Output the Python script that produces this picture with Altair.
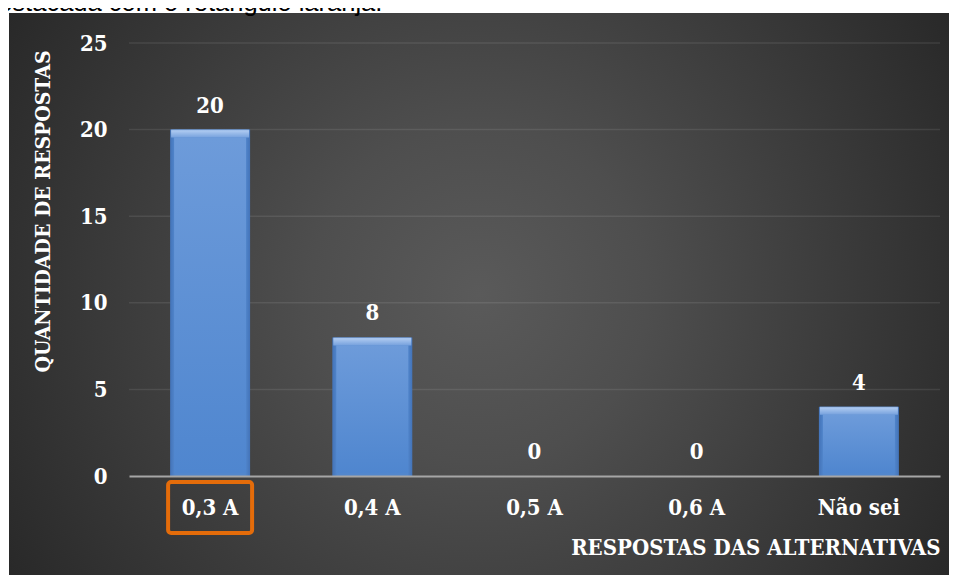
import altair as alt
import pandas as pd

categories = ["0,3 A", "0,4 A", "0,5 A", "0,6 A", "Não sei"]
counts = [20, 8, 0, 0, 4]
y_ticks = [0, 5, 10, 15, 20, 25]
highlight = "0,3 A"
caption = "destacada com o retângulo laranja."
x_title = "RESPOSTAS DAS ALTERNATIVAS"
y_title = "QUANTIDADE DE RESPOSTAS"

FONT = "DejaVu Serif Condensed"
W, H = 811, 433

df = pd.DataFrame({"cat": categories, "n": counts})
grid_df = pd.DataFrame({"n": y_ticks[1:]})
cap_df = pd.DataFrame({"t": [caption]})
bg_df = pd.DataFrame({"a": [0]})

x_scale = alt.Scale(domain=categories, paddingInner=0, paddingOuter=0)
y_scale = alt.Scale(domain=[0, 25], nice=False)

x_axis = alt.Axis(
    title=x_title, titleFont=FONT, titleFontSize=22, titleFontWeight="bold",
    titleColor="white", titleAnchor="end", titleAlign="right", titleX=W,
    titleY=71, titleBaseline="middle",
    labelAngle=0, labelFont=FONT, labelFontSize=22, labelFontWeight="bold",
    labelColor="white", labelPadding=21, labelBaseline="top",
    ticks=False, tickSize=0, domainColor="#a6a6a6", domainWidth=2, zindex=1,
    grid=False,
)
y_axis = alt.Axis(
    values=y_ticks, title=y_title, titleFont=FONT, titleFontSize=21,
    titleFontWeight="bold", titleColor="white", titleX=-86, titleY=168,
    titleBaseline="middle", titleAngle=270, titleAlign="center",
    labelFont=FONT, labelFontSize=22, labelFontWeight="bold", labelColor="white",
    labelPadding=22, grid=False, domain=False, ticks=False, tickSize=0, zindex=1,
)

X = alt.X("cat:N", sort=categories, scale=x_scale, axis=x_axis)
Y = alt.Y("n:Q", scale=y_scale, axis=y_axis)

bg_grad = {
    "gradient": "radial", "x1": 0.5, "y1": 0.5, "r1": 0, "x2": 0.5, "y2": 0.5, "r2": 0.6,
    "stops": [{"offset": 0, "color": "#5a5a5a"}, {"offset": 0.3, "color": "#4e4e4e"},
              {"offset": 1, "color": "#272727"}],
}
background = alt.Chart(bg_df).mark_rect(fill=bg_grad).encode(
    x=alt.value(-120), x2=alt.value(820), y=alt.value(-30), y2=alt.value(532)
)

gridlines = alt.Chart(grid_df).mark_rule(color="white", opacity=0.09, strokeWidth=1.5).encode(
    y=Y, x=alt.value(0), x2=alt.value(W)
)

side_grad = {
    "gradient": "linear", "x1": 0, "y1": 0, "x2": 1, "y2": 0,
    "stops": [{"offset": 0, "color": "#4373b8"}, {"offset": 0.06, "color": "#5287cd"},
              {"offset": 0.94, "color": "#5287cd"}, {"offset": 1, "color": "#4373b8"}],
}
face_grad = {
    "gradient": "linear", "x1": 0, "y1": 0, "x2": 0, "y2": 1,
    "stops": [{"offset": 0, "color": "#6d9bda"}, {"offset": 1, "color": "#4f86cf"}],
}
top_grad = {
    "gradient": "linear", "x1": 0, "y1": 0, "x2": 0, "y2": 1,
    "stops": [{"offset": 0, "color": "#7ea6df"}, {"offset": 0.15, "color": "#adc9f0"},
              {"offset": 1, "color": "#76a1dd"}],
}

bars_base = alt.Chart(df).transform_filter("datum.n > 0")
bar_side = bars_base.mark_bar(width=80, fill=side_grad).encode(x=X, y=Y, y2=alt.datum(0))
bar_face = bars_base.mark_bar(width=72, fill=face_grad, yOffset=8, y2Offset=-3).encode(
    x=X, y=Y, y2=alt.datum(0)
)
bar_top = bars_base.mark_bar(width=78, fill=top_grad, y2Offset=8).encode(
    x=X, y=Y, y2=alt.Y2("n:Q")
)

labels = alt.Chart(df).mark_text(
    font=FONT, fontSize=22, fontWeight="bold", color="white", baseline="alphabetic", dy=-17
).encode(x=X, y=Y, text="n:Q")

box = alt.Chart(df).transform_filter(alt.datum.cat == highlight).mark_bar(
    width=84, fill="transparent", stroke="#e46c0a", strokeWidth=4, cornerRadius=3
).encode(x=X, y=alt.value(439), y2=alt.value(490))

cap = alt.Chart(cap_df).mark_text(
    font="Liberation Sans", fontSize=25.5, color="black", align="left", baseline="alphabetic"
).encode(text="t:N", x=alt.value(-145), y=alt.value(-32))

chart = alt.layer(
    background, gridlines, bar_side, bar_face, bar_top, labels, box, cap
).properties(
    width=W, height=H,
    autosize=alt.AutoSizeParams(type="none"),
    padding={"left": 121, "top": 35, "right": 9, "bottom": 99},
    background="white",
).configure_view(stroke=None)

chart.save("out.html", embed_options={"renderer": "svg", "actions": False})
